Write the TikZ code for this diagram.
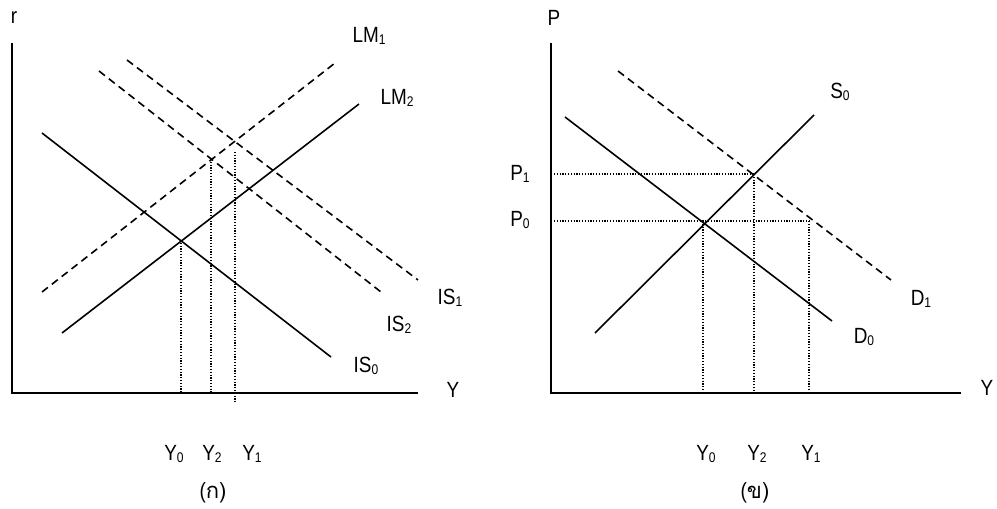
\documentclass[tikz,border=0pt]{standalone}
\usepackage{fontspec}
\setmainfont{Liberation Sans}[FakeStretch=0.86]
\newfontfamily\thaifont[Script=Thai]{Loma}
\newcommand{\sbs}[1]{\raisebox{-2.5pt}{\fontsize{14}{15}\selectfont #1}}
\begin{document}
\begin{tikzpicture}[x=1pt,y=-1pt,
  axis/.style={line width=2pt},
  curve/.style={line width=1.6pt},
  dcurve/.style={line width=1.6pt,dash pattern=on 7.5pt off 5pt},
  guide/.style={line width=1.3pt,dash pattern=on 1.2pt off 1.6pt},
  lbl/.style={font=\fontsize{22}{24}\selectfont,inner sep=0pt}]
\useasboundingbox (0,0) rectangle (997,509);
% ---------- left panel ----------
\coordinate (aO) at (12,393);
\coordinate (aTop) at (12,43);
\coordinate (aRight) at (418,393);
\draw[axis] (aTop) -- (aO) -- (aRight);
\node[lbl] (r) at (14,18) {r};
\node[lbl] (yA) at (453,390) {Y};
% IS0
\coordinate (is0a) at (42,133); \coordinate (is0b) at (331,357);
\draw[curve] (is0a) -- (is0b);
\node[lbl] (IS0) at (366,366) {IS\sbs{0}};
% LM2
\coordinate (lm2a) at (62,333); \coordinate (lm2b) at (359,104);
\draw[curve] (lm2a) -- (lm2b);
\node[lbl] (LM2) at (397,98) {LM\sbs{2}};
% LM1
\coordinate (lm1a) at (42,292); \coordinate (lm1b) at (335,63);
\draw[dcurve] (lm1a) -- (lm1b);
\node[lbl] (LM1) at (369,36) {LM\sbs{1}};
% IS2
\coordinate (is2a) at (99,71); \coordinate (is2b) at (381,292);
\draw[dcurve] (is2a) -- (is2b);
\node[lbl] (IS2) at (399,325) {IS\sbs{2}};
% IS1
\coordinate (is1a) at (127,60); \coordinate (is1b) at (418,280);
\draw[dcurve] (is1a) -- (is1b);
\node[lbl] (IS1) at (450,298) {IS\sbs{1}};
% guides
\coordinate (g0t) at (181,240); \coordinate (g0b) at (181,393);
\coordinate (g2t) at (211,159); \coordinate (g2b) at (211,393);
\coordinate (g1t) at (235,152); \coordinate (g1b) at (235,402);
\draw[guide] (g0t) -- (g0b);
\draw[guide] (g2t) -- (g2b);
\draw[guide] (g1t) -- (g1b);
\node[lbl] (aY0) at (174,454) {Y\sbs{0}};
\node[lbl] (aY2) at (212,454) {Y\sbs{2}};
\node[lbl] (aY1) at (252,454) {Y\sbs{1}};
\node[lbl] (capA) at (213,493) {(\thaifont ก)};
% ---------- right panel ----------
\coordinate (bO) at (551,393);
\coordinate (bTop) at (551,43);
\coordinate (bRight) at (961,393);
\draw[axis] (bTop) -- (bO) -- (bRight);
\node[lbl] (P) at (554,18) {P};
\node[lbl] (yB) at (987,388) {Y};
% D0
\coordinate (d0a) at (565,117); \coordinate (d0b) at (832,321);
\draw[curve] (d0a) -- (d0b);
\node[lbl] (D0) at (864,337) {D\sbs{0}};
% S0
\coordinate (s0a) at (595,333); \coordinate (s0b) at (814,115);
\draw[curve] (s0a) -- (s0b);
\node[lbl] (S0) at (840,92) {S\sbs{0}};
% D1
\coordinate (d1a) at (618,71); \coordinate (d1b) at (891,280);
\draw[dcurve] (d1a) -- (d1b);
\node[lbl] (D1) at (921,299) {D\sbs{1}};
% guides
\coordinate (p1l) at (554,174); \coordinate (p1r) at (754,174);
\coordinate (p0l) at (554,221); \coordinate (p0r) at (809,221);
\draw[guide] (p1l) -- (p1r);
\draw[guide] (p0l) -- (p0r);
\coordinate (v0b) at (703,393); \coordinate (v0t) at (703,221);
\coordinate (v2b) at (754,393);
\coordinate (v1b) at (809,393);
\draw[guide] (v0t) -- (v0b);
\draw[guide] (p1r) -- (v2b);
\draw[guide] (p0r) -- (v1b);
\node[lbl] (P1) at (520,174) {P\sbs{1}};
\node[lbl] (P0) at (520,220) {P\sbs{0}};
\node[lbl] (bY0) at (706,454) {Y\sbs{0}};
\node[lbl] (bY2) at (757,454) {Y\sbs{2}};
\node[lbl] (bY1) at (811,454) {Y\sbs{1}};
\node[lbl] (capB) at (755,493) {(\thaifont ข)};
\end{tikzpicture}
\end{document}
